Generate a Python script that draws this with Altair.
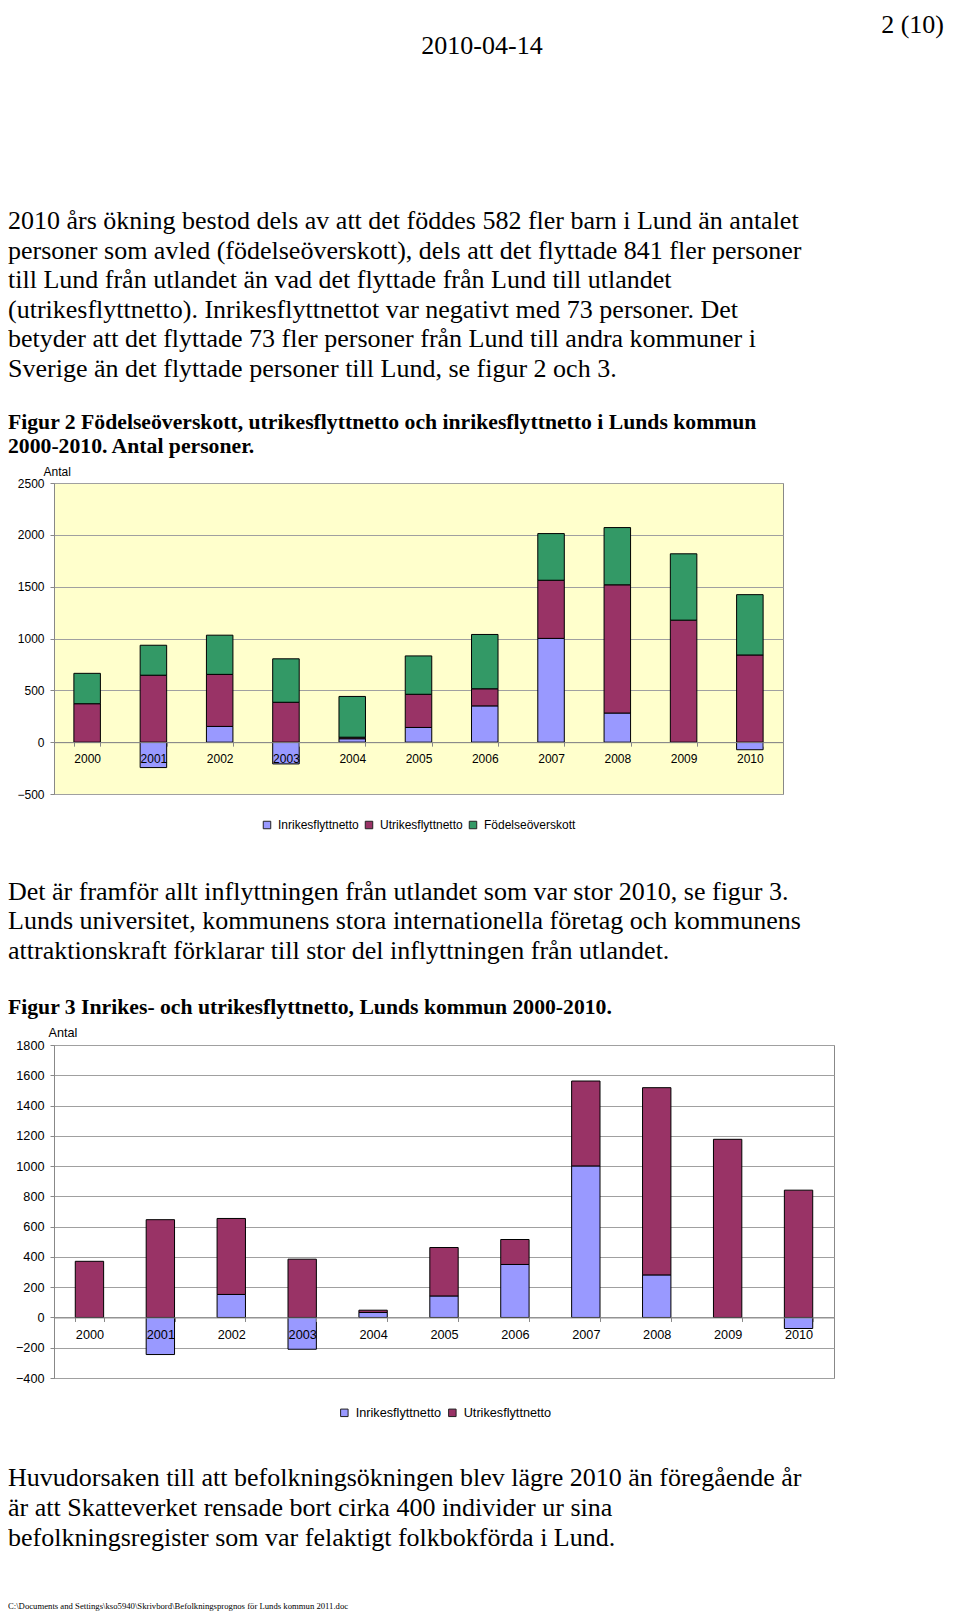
import altair as alt
import pandas as pd

# ---------------- data ----------------
years = ["2000", "2001", "2002", "2003", "2004", "2005", "2006", "2007", "2008", "2009", "2010"]
inrikes = [0, -245, 152, -210, 33, 142, 350, 1001, 281, 0, -73]
utrikes = [371, 646, 502, 385, 15, 320, 165, 561, 1237, 1177, 841]
fodelse = [293, 289, 378, 419, 393, 370, 524, 450, 552, 640, 582]

series_names = ["Inrikesflyttnetto", "Utrikesflyttnetto", "Födelseöverskott"]
series_colors = ["#9999FF", "#993366", "#339966"]

y1_ticks = [-500, 0, 500, 1000, 1500, 2000, 2500]
y2_ticks = [-400, -200, 0, 200, 400, 600, 800, 1000, 1200, 1400, 1600, 1800]

header_page = ["2 (10)"]
header_date = ["2010-04-14"]
para1 = [
    "2010 års ökning bestod dels av att det föddes 582 fler barn i Lund än antalet",
    "personer som avled (födelseöverskott), dels att det flyttade 841 fler personer",
    "till Lund från utlandet än vad det flyttade från Lund till utlandet",
    "(utrikesflyttnetto). Inrikesflyttnettot var negativt med 73 personer. Det",
    "betyder att det flyttade 73 fler personer från Lund till andra kommuner i",
    "Sverige än det flyttade personer till Lund, se figur 2 och 3.",
]
caption2 = [
    "Figur 2 Födelseöverskott, utrikesflyttnetto och inrikesflyttnetto i Lunds kommun",
    "2000-2010. Antal personer.",
]
para2 = [
    "Det är framför allt inflyttningen från utlandet som var stor 2010, se figur 3.",
    "Lunds universitet, kommunens stora internationella företag och kommunens",
    "attraktionskraft förklarar till stor del inflyttningen från utlandet.",
]
caption3 = ["Figur 3 Inrikes- och utrikesflyttnetto, Lunds kommun 2000-2010."]
para3 = [
    "Huvudorsaken till att befolkningsökningen blev lägre 2010 än föregående år",
    "är att Skatteverket rensade bort cirka 400 individer ur sina",
    "befolkningsregister som var felaktigt folkbokförda i Lund.",
]
footer = ["C:\\Documents and Settings\\kso5940\\Skrivbord\\Befolkningsprognos för Lunds kommun 2011.doc"]

SERIF = "Liberation Serif"
SANS = "Liberation Sans"
TEXT_W = 894
TEXT_X = -46


def long_df(series_lists, names):
    rows = []
    for k, (vals, name) in enumerate(zip(series_lists, names)):
        for yr, v in zip(years, vals):
            rows.append({"year": yr, "series": name, "value": v, "order": k})
    return pd.DataFrame(rows)


def text_layer(lines, x, y0, lh, size, weight="normal", align="left", font=SERIF):
    df = pd.DataFrame({"line": lines, "i": list(range(len(lines)))})
    return (
        alt.Chart(df)
        .transform_calculate(ypos=f"{y0} + datum.i * {lh}")
        .mark_text(align=align, baseline="middle", font=font, fontSize=size,
                   fontWeight=weight, color="black")
        .encode(x=alt.value(x), y=alt.Y("ypos:Q", scale=None, axis=None), text="line:N")
    )


def bar_chart(df, names, colors, domain, ticks, w, h, bg, fsize, title_x, title_y,
              leg_x, leg_y):
    zero_from_top = h * domain[1] / (domain[1] - domain[0])
    return (
        alt.Chart(df)
        .transform_filter("datum.value != 0")
        .mark_bar(stroke="black", strokeWidth=1)
        .encode(
            x=alt.X(
                "year:N",
                sort=years,
                scale=alt.Scale(paddingInner=0.6, paddingOuter=0.3),
                axis=alt.Axis(
                    title=None, labelAngle=0, orient="bottom",
                    offset=-(h - zero_from_top), tickBand="extent", tickSize=4,
                    labelPadding=7, domainColor="#888888", tickColor="#888888",
                    labelFont=SANS, labelFontSize=fsize, labelColor="black",
                    zindex=1, grid=False,
                ),
            ),
            y=alt.Y(
                "value:Q",
                stack="zero",
                scale=alt.Scale(domain=domain, nice=False, zero=False),
                axis=alt.Axis(
                    values=ticks, format="d", title="Antal", titleAngle=0, titleX=title_x,
                    titleY=title_y, titleAlign="left", titleBaseline="middle",
                    titleFont=SANS, titleFontSize=fsize, titleFontWeight="normal",
                    titleColor="black", grid=True, gridColor="#A0A0A0",
                    domainColor="#888888", tickColor="#888888", tickSize=4,
                    labelPadding=6, labelFont=SANS, labelFontSize=fsize,
                    labelColor="black",
                ),
            ),
            color=alt.Color(
                "series:N",
                scale=alt.Scale(domain=names, range=colors),
                legend=alt.Legend(
                    title=None, orient="none", legendX=leg_x, legendY=leg_y,
                    direction="horizontal", columns=len(names), symbolType="square",
                    symbolSize=56, symbolStrokeColor="#222222", symbolStrokeWidth=1,
                    labelFont=SANS, labelFontSize=fsize, labelColor="black",
                    columnPadding=4, labelOffset=5, padding=0, labelLimit=400,
                ),
            ),
            order=alt.Order("order:Q"),
        )
        .properties(width=w, height=h, view=alt.ViewBackground(fill=bg, stroke="#888888"))
    )


# ---------------- panels ----------------
panelA = alt.layer(
    text_layer(header_page, TEXT_W - 4, 17, 0, 26, align="right"),
    text_layer(header_date, 428, 38, 0, 26, align="center"),
    text_layer(para1, TEXT_X, 213, 29.6, 26),
    text_layer(caption2, TEXT_X, 414, 24, 21.7, weight="bold"),
).properties(width=TEXT_W, height=475)

df1 = long_df([inrikes, utrikes, fodelse], series_names)
chart1 = bar_chart(df1, series_names, series_colors, [-500, 2500], y1_ticks,
                   729, 311, "#FFFFCC", 12, -11, -12, 207, 336)

panelC = alt.layer(
    text_layer(para2, TEXT_X, 97.7, 29.6, 26),
    text_layer(caption3, TEXT_X, 212.7, 24, 21.7, weight="bold"),
).properties(width=TEXT_W, height=251)

df2 = long_df([inrikes, utrikes], series_names[:2])
chart2 = bar_chart(df2, series_names[:2], series_colors[:2], [-400, 1800], y2_ticks,
                   780, 333, "#FFFFFF", 12.7, -6, -13, 284, 361)

panelE = alt.layer(
    text_layer(para3, TEXT_X, 100, 30, 26),
    text_layer(footer, TEXT_X, 228, 0, 8.7),
).properties(width=TEXT_W, height=235)

chart = (
    alt.vconcat(panelA, chart1, panelC, chart2, panelE, spacing=0, bounds="flush")
    .resolve_scale(color="independent")
    .resolve_legend(color="independent")
    .properties(padding=0)
    .configure_view(stroke=None)
)

chart.save("out.html", embed_options={"renderer": "svg", "actions": False})
